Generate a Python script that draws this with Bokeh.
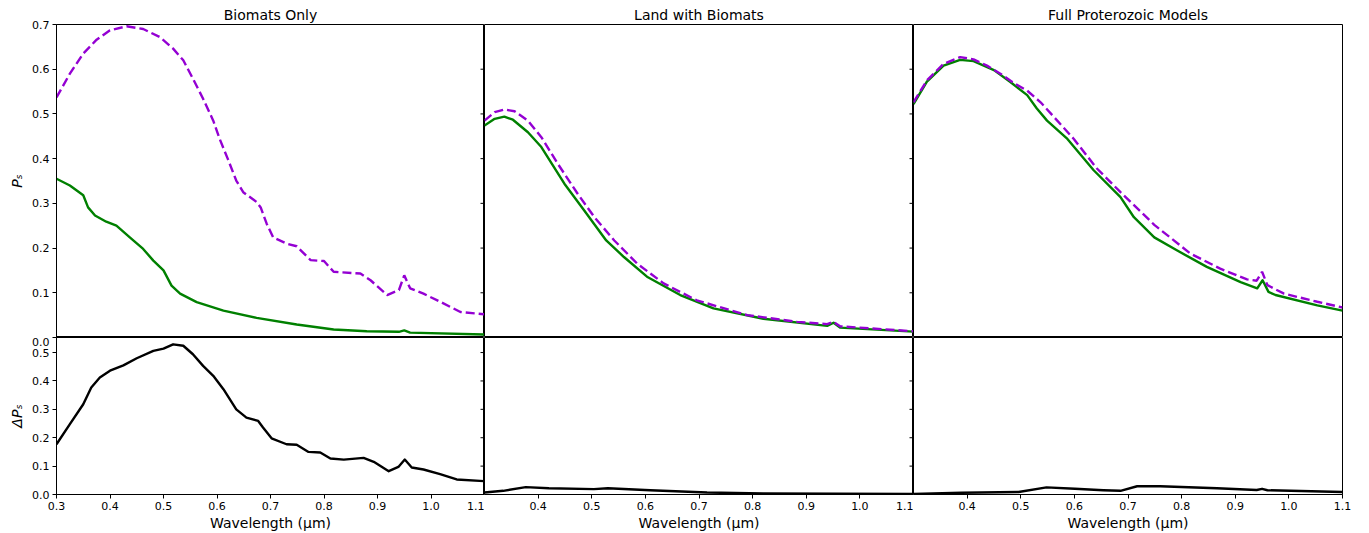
from bokeh.plotting import figure
from bokeh.layouts import gridplot
from bokeh.models import FixedTicker, PrintfTickFormatter, Range1d
from bokeh.embed import file_html
from bokeh.resources import INLINE

# ---------------- data ----------------
panel_titles = ["Biomats Only", "Land with Biomats", "Full Proterozoic Models"]
x_ticks = [0.3, 0.4, 0.5, 0.6, 0.7, 0.8, 0.9, 1.0, 1.1]
ps_ticks = [0.0, 0.1, 0.2, 0.3, 0.4, 0.5, 0.6, 0.7]
dps_ticks = [0.0, 0.1, 0.2, 0.3, 0.4, 0.5]
X_MIN, X_MAX = 0.3, 1.1
PS_MAX = 0.7
DPS_MAX = 0.553

# Biomats Only
bio_dash_x = [0.30, 0.325, 0.35, 0.375, 0.40, 0.431, 0.462, 0.493, 0.518, 0.537, 0.555, 0.574,
              0.593, 0.605, 0.62, 0.636, 0.649, 0.674, 0.682, 0.693, 0.705, 0.73, 0.749, 0.775,
              0.80, 0.818, 0.868, 0.887, 0.918, 0.94, 0.95, 0.961, 0.986, 1.017, 1.055, 1.10]
bio_dash_y = [0.537, 0.590, 0.635, 0.666, 0.687, 0.696, 0.690, 0.672, 0.646, 0.620, 0.579,
              0.534, 0.485, 0.444, 0.400, 0.351, 0.325, 0.303, 0.290, 0.254, 0.224, 0.210,
              0.204, 0.173, 0.171, 0.147, 0.143, 0.128, 0.095, 0.106, 0.139, 0.110, 0.098,
              0.080, 0.057, 0.052]
bio_solid_x = [0.30, 0.325, 0.35, 0.359, 0.372, 0.393, 0.412, 0.437, 0.462, 0.481, 0.50, 0.515,
               0.531, 0.562, 0.612, 0.674, 0.749, 0.818, 0.88, 0.94, 0.95, 0.961, 1.10]
bio_solid_y = [0.355, 0.340, 0.318, 0.291, 0.273, 0.259, 0.250, 0.224, 0.198, 0.172, 0.150,
               0.116, 0.098, 0.079, 0.060, 0.044, 0.029, 0.018, 0.014, 0.0127, 0.016, 0.011,
               0.0067]
bio_diff_x = [0.30, 0.325, 0.35, 0.365, 0.381, 0.40, 0.425, 0.45, 0.481, 0.50, 0.518, 0.537,
              0.555, 0.574, 0.593, 0.612, 0.636, 0.655, 0.677, 0.686, 0.702, 0.73, 0.749,
              0.771, 0.793, 0.812, 0.837, 0.874, 0.893, 0.921, 0.939, 0.951, 0.964, 0.986,
              1.017, 1.048, 1.10]
bio_diff_y = [0.177, 0.248, 0.318, 0.377, 0.412, 0.436, 0.455, 0.480, 0.506, 0.514, 0.529,
              0.524, 0.494, 0.453, 0.418, 0.371, 0.300, 0.271, 0.259, 0.236, 0.198, 0.177,
              0.175, 0.150, 0.148, 0.127, 0.123, 0.129, 0.115, 0.082, 0.097, 0.123, 0.095,
              0.088, 0.072, 0.053, 0.047]

# Land with Biomats
land_dash_x = [0.30, 0.319, 0.337, 0.356, 0.381, 0.406, 0.437, 0.474, 0.505, 0.542, 0.585,
               0.634, 0.696, 0.79, 0.883, 0.939, 0.951, 0.963, 1.10]
land_dash_y = [0.485, 0.504, 0.510, 0.506, 0.485, 0.448, 0.388, 0.321, 0.269, 0.217, 0.165,
               0.121, 0.083, 0.050, 0.035, 0.030, 0.035, 0.025, 0.014]
land_solid_x = [0.30, 0.319, 0.337, 0.353, 0.381, 0.406, 0.449, 0.486, 0.527, 0.56, 0.603,
                0.665, 0.727, 0.82, 0.939, 0.951, 0.963, 1.10]
land_solid_y = [0.474, 0.489, 0.494, 0.487, 0.459, 0.426, 0.344, 0.284, 0.217, 0.180, 0.136,
                0.095, 0.065, 0.042, 0.026, 0.033, 0.022, 0.013]
land_diff_x = [0.30, 0.335, 0.377, 0.42, 0.504, 0.53, 0.609, 0.715, 0.82, 1.10]
land_diff_y = [0.007, 0.013, 0.026, 0.022, 0.019, 0.022, 0.015, 0.007, 0.0035, 0.002]

# Full Proterozoic Models
prot_dash_x = [0.30, 0.325, 0.356, 0.387, 0.412, 0.437, 0.462, 0.487, 0.512, 0.537, 0.562,
               0.599, 0.642, 0.686, 0.749, 0.816, 0.872, 0.922, 0.94, 0.95, 0.96, 0.991, 1.053,
               1.10]
prot_dash_y = [0.526, 0.575, 0.612, 0.627, 0.622, 0.608, 0.590, 0.569, 0.552, 0.526, 0.493,
               0.444, 0.378, 0.325, 0.252, 0.188, 0.154, 0.130, 0.127, 0.147, 0.117, 0.098,
               0.080, 0.067]
prot_solid_x = [0.30, 0.325, 0.356, 0.387, 0.412, 0.45, 0.48, 0.512, 0.53, 0.549, 0.587, 0.636,
                0.686, 0.711, 0.749, 0.791, 0.847, 0.91, 0.941, 0.951, 0.962, 0.975, 1.053,
                1.10]
prot_solid_y = [0.522, 0.572, 0.608, 0.621, 0.618, 0.598, 0.572, 0.542, 0.512, 0.485, 0.444,
                0.374, 0.314, 0.269, 0.224, 0.195, 0.158, 0.124, 0.110, 0.128, 0.102, 0.095,
                0.072, 0.060]
prot_diff_x = [0.30, 0.39, 0.496, 0.548, 0.601, 0.654, 0.686, 0.717, 0.76, 0.866, 0.94, 0.95,
               0.96, 1.10]
prot_diff_y = [0.002, 0.006, 0.009, 0.025, 0.020, 0.015, 0.013, 0.029, 0.029, 0.022, 0.016,
               0.020, 0.015, 0.009]

top_series = [(bio_dash_x, bio_dash_y, bio_solid_x, bio_solid_y),
              (land_dash_x, land_dash_y, land_solid_x, land_solid_y),
              (prot_dash_x, prot_dash_y, prot_solid_x, prot_solid_y)]
bottom_series = [(bio_diff_x, bio_diff_y), (land_diff_x, land_diff_y), (prot_diff_x, prot_diff_y)]

# ---------------- styling ----------------
FONT = "DejaVu Sans"
PURPLE = "#9400D3"
GREEN = "#008000"
LW = 2.4
WIDTHS = [484, 429, 456]
ML = [56, 0, 0]
MR = [0, 0, 27]
TOP_H, BOT_H = 337, 196
TICK_LEN = 4
TICK_STANDOFF = 3


def style_left_axis(ax, ticks, label, overrides=None):
    ax.ticker = FixedTicker(ticks=ticks)
    ax.formatter = PrintfTickFormatter(format="%.1f")
    if overrides:
        ax.major_label_overrides = overrides
    ax.major_tick_out = TICK_LEN
    ax.major_tick_in = 0
    ax.minor_tick_line_color = None
    ax.major_tick_line_color = "black"
    ax.axis_line_color = "black"
    ax.major_label_text_font = FONT
    ax.major_label_text_font_size = "11px"
    ax.major_label_text_color = "black"
    ax.major_label_standoff = TICK_STANDOFF
    ax.axis_label = label
    ax.axis_label_text_font = FONT
    ax.axis_label_text_font_size = "14px"
    ax.axis_label_text_font_style = "italic"
    ax.axis_label_text_color = "black"
    ax.axis_label_standoff = 4


def add_edge_ticks(p, ticks):
    # tick marks of the neighbouring panel's y axis, seen on this panel's right edge
    p.scatter(x=[X_MAX] * len(ticks), y=ticks, marker="dash", size=8,
              line_color="black", line_width=1)


def base(p):
    p.grid.visible = False
    p.outline_line_color = "black"
    p.outline_line_width = 1
    p.background_fill_color = "white"
    p.border_fill_color = "white"


figs_top = []
figs_bot = []
for i in range(3):
    p = figure(width=WIDTHS[i], height=TOP_H, x_range=Range1d(X_MIN, X_MAX),
               y_range=Range1d(0, PS_MAX), output_backend="svg", toolbar_location=None,
               x_axis_location=None, y_axis_location="left" if i == 0 else None,
               min_border_left=ML[i], min_border_right=MR[i], min_border_top=24,
               min_border_bottom=0, title=panel_titles[i])
    base(p)
    p.title.text_font = FONT
    p.title.text_font_size = "14px"
    p.title.text_font_style = "normal"
    p.title.align = "center"
    p.title.standoff = 4
    p.title.text_color = "black"
    if i == 0:
        # the Ps "0.0" label sits on the boundary between the two rows; it is drawn
        # by the lower panel's axis (at the shared boundary) so it is not cut off
        style_left_axis(p.yaxis[0], ps_ticks[1:], "Pₛ")
    if i < 2:
        add_edge_ticks(p, ps_ticks)
    dx, dy, sx, sy = top_series[i]
    p.line(sx, sy, line_color=GREEN, line_width=LW, line_join="round")
    p.line(dx, dy, line_color=PURPLE, line_width=LW, line_dash="9 4")
    figs_top.append(p)

for i in range(3):
    p = figure(width=WIDTHS[i], height=BOT_H, x_range=Range1d(X_MIN, X_MAX),
               y_range=Range1d(0, DPS_MAX), output_backend="svg", toolbar_location=None,
               x_axis_location="below", y_axis_location="left" if i == 0 else None,
               min_border_left=ML[i], min_border_right=MR[i], min_border_top=0,
               min_border_bottom=39)
    base(p)
    if i == 0:
        style_left_axis(p.yaxis[0], dps_ticks + [DPS_MAX], "ΔPₛ",
                        {DPS_MAX: "%.1f" % ps_ticks[0]})
    if i < 2:
        add_edge_ticks(p, dps_ticks)
    xa = p.xaxis[0]
    xa.ticker = FixedTicker(ticks=x_ticks if i == 0 else x_ticks[1:])
    xa.formatter = PrintfTickFormatter(format="%.1f")
    xa.major_tick_out = TICK_LEN
    xa.major_tick_in = 0
    xa.minor_tick_line_color = None
    xa.major_tick_line_color = "black"
    xa.axis_line_color = "black"
    xa.major_label_text_font = FONT
    xa.major_label_text_font_size = "11px"
    xa.major_label_text_color = "black"
    xa.major_label_standoff = TICK_STANDOFF
    xa.axis_label = "Wavelength (μm)"
    xa.axis_label_text_font = FONT
    xa.axis_label_text_font_size = "14px"
    xa.axis_label_text_font_style = "normal"
    xa.axis_label_text_color = "black"
    xa.axis_label_standoff = 2
    bx, by = bottom_series[i]
    p.line(bx, by, line_color="black", line_width=LW, line_join="round")
    figs_bot.append(p)

grid = gridplot([figs_top, figs_bot], toolbar_location=None)

open("out.html", "w").write(file_html(grid, INLINE))
